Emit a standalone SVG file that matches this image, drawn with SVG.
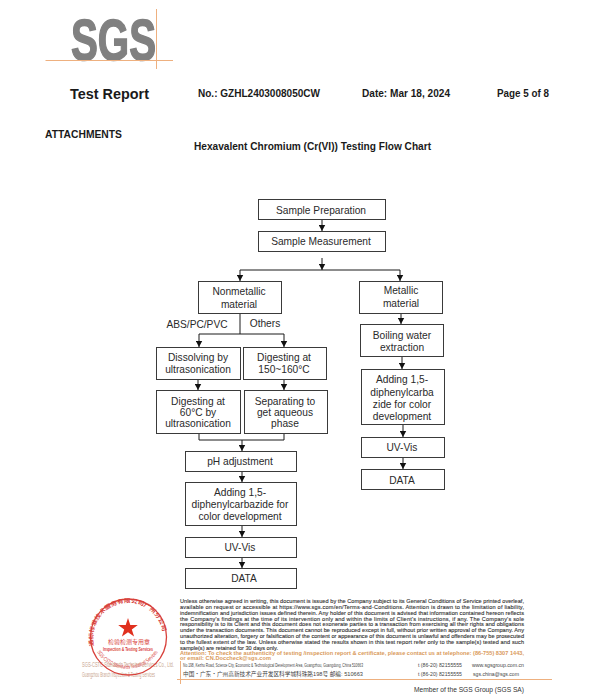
<svg xmlns="http://www.w3.org/2000/svg" width="600" height="699" viewBox="0 0 600 699">
<style>
text{font-family:"Liberation Sans",Arial,"Noto Sans CJK SC",sans-serif}
.h{font-weight:bold;fill:#1a1a1a}
.box{fill:#fff;stroke:#3a3a3a;stroke-width:1}
.n{font-size:10.200px;fill:#2a2a2a;text-anchor:middle}
.c{fill:none;stroke:#1a1a1a;stroke-width:1}
.a{marker-end:url(#ah)}
.o{stroke:#eeb07f;stroke-width:1;fill:none}
.f{font-size:5.600px;fill:#333;stroke:#333;stroke-width:.12}
.t{font-size:5.600px;fill:#d99a5b;font-weight:bold}
.g{font-size:5.600px;fill:#444}
.s{fill:#c9a58f;font-size:7px}
.r{fill:#d8403a;font-size:5.500px}
</style>
<defs>
<marker id="ah" markerUnits="userSpaceOnUse" markerWidth="7" markerHeight="7" refX="6" refY="3.500" orient="auto"><path d="M0 0.300L6 3.500L0 6.700Z" fill="#111"/></marker>
<path id="sealTop" d="M94 646A35 35 0 1 1 162 646"/>
<path id="sealBot" d="M97 652A36 36 0 0 0 160 648"/>
</defs>
<rect width="600" height="699" fill="#fff"/>
<g id="logo">
<text x="71" y="60" font-size="58" font-weight="bold" fill="#808080" stroke="#808080" stroke-width="1.500" textLength="85" lengthAdjust="spacingAndGlyphs">SGS</text>
<path class="o" d="M45.500 60.500H173M156.500 9V69"/>
</g>
<g id="header">
<text class="h" x="70" y="99" font-size="15.500" textLength="79" lengthAdjust="spacingAndGlyphs">Test Report</text>
<text class="h" x="198" y="97" font-size="10.500" textLength="122" lengthAdjust="spacingAndGlyphs">No.: GZHL2403008050CW</text>
<text class="h" x="362" y="97" font-size="10.500" textLength="88" lengthAdjust="spacingAndGlyphs">Date: Mar 18, 2024</text>
<text class="h" x="497" y="97" font-size="10.500" textLength="52" lengthAdjust="spacingAndGlyphs">Page 5 of 8</text>
<text class="h" x="45" y="138" font-size="10.500" textLength="77" lengthAdjust="spacingAndGlyphs">ATTACHMENTS</text>
<text class="h" x="194" y="150" font-size="10.500" textLength="237" lengthAdjust="spacingAndGlyphs">Hexavalent Chromium (Cr(VI)) Testing Flow Chart</text>
</g>
<g id="connectors">
<path class="c a" d="M322 219V231"/>
<path class="c a" d="M322 258V270"/>
<path class="c" d="M240 270H400"/>
<path class="c a" d="M240 270V281"/>
<path class="c a" d="M400 270V281"/>
<path class="c a" d="M401 313V324"/>
<path class="c" d="M240 313V334M199 334H284"/>
<path class="c a" d="M199 334V347"/>
<path class="c a" d="M284 334V347"/>
<path class="c a" d="M198 379V390"/>
<path class="c a" d="M284 379V390"/>
<path class="c" d="M199 433V440H284V433"/>
<path class="c a" d="M242 440V451"/>
<path class="c a" d="M242 471V482"/>
<path class="c a" d="M242 525V537"/>
<path class="c a" d="M242 557V568"/>
<path class="c a" d="M402 356V369"/>
<path class="c a" d="M403 424V437"/>
<path class="c a" d="M403 457V469"/>
</g>
<g id="n-prep"><rect class="box" x="258.500" y="199.500" width="127" height="20"/><text class="n" x="321" y="214">Sample Preparation</text></g>
<g id="n-meas"><rect class="box" x="258.500" y="231.500" width="127" height="20"/><text class="n" x="321" y="245">Sample Measurement</text></g>
<g id="n-nonmetal"><rect class="box" x="198.500" y="281.500" width="83" height="32"/><text class="n" x="239" y="295">Nonmetallic</text><text class="n" x="239" y="308">material</text></g>
<g id="n-metal"><rect class="box" x="359.500" y="281.500" width="83" height="32"/><text class="n" x="401" y="294">Metallic</text><text class="n" x="401" y="307">material</text></g>
<g id="l-abs"><text class="n" x="197" y="328">ABS/PC/PVC</text></g>
<g id="l-others"><text class="n" x="265" y="327">Others</text></g>
<g id="n-boil"><rect class="box" x="360.500" y="324.500" width="83" height="32"/><text class="n" x="402" y="339">Boiling water</text><text class="n" x="402" y="351">extraction</text></g>
<g id="n-dissolve"><rect class="box" x="156.500" y="347.500" width="84" height="32"/><text class="n" x="198" y="361">Dissolving by</text><text class="n" x="198" y="373">ultrasonication</text></g>
<g id="n-dig150"><rect class="box" x="243.500" y="347.500" width="83" height="32"/><text class="n" x="284" y="361">Digesting at</text><text class="n" x="284" y="373">150~160°C</text></g>
<g id="n-dig60"><rect class="box" x="156.500" y="390.500" width="84" height="43"/><text class="n" x="198" y="405">Digesting at</text><text class="n" x="198" y="416">60°C by</text><text class="n" x="198" y="427">ultrasonication</text></g>
<g id="n-sep"><rect class="box" x="244.500" y="390.500" width="83" height="43"/><text class="n" x="285" y="405">Separating to</text><text class="n" x="285" y="416">get aqueous</text><text class="n" x="285" y="427">phase</text></g>
<g id="n-ph"><rect class="box" x="185.500" y="451.500" width="111" height="20"/><text class="n" x="240" y="465">pH adjustment</text></g>
<g id="n-add"><rect class="box" x="185.500" y="482.500" width="111" height="43"/><text class="n" x="240" y="496">Adding 1,5-</text><text class="n" x="240" y="508">diphenylcarbazide for</text><text class="n" x="240" y="520">color development</text></g>
<g id="n-uv"><rect class="box" x="185.500" y="537.500" width="111" height="20"/><text class="n" x="240" y="551">UV-Vis</text></g>
<g id="n-data"><rect class="box" x="185.500" y="568.500" width="111" height="20"/><text class="n" x="244" y="582">DATA</text></g>
<g id="n-add2"><rect class="box" x="361.500" y="369.500" width="83" height="55"/><text class="n" x="402" y="383">Adding 1,5-</text><text class="n" x="402" y="396">diphenylcarba</text><text class="n" x="402" y="408">zide for color</text><text class="n" x="402" y="420">development</text></g>
<g id="n-uv2"><rect class="box" x="361.500" y="437.500" width="83" height="20"/><text class="n" x="402" y="451">UV-Vis</text></g>
<g id="n-data2"><rect class="box" x="361.500" y="469.500" width="83" height="20"/><text class="n" x="402" y="484">DATA</text></g>
<g id="seal">
<text class="s" x="82" y="666.500" textLength="92" lengthAdjust="spacingAndGlyphs">SGS-CSTC Standards Technical Services Co., Ltd.</text>
<text class="s" x="82" y="676.500" textLength="73" lengthAdjust="spacingAndGlyphs">Guangzhou Branch Inspection &amp; Testing Services</text>
<circle cx="128.500" cy="637" r="38" fill="none" stroke="#d8403a" stroke-width="1.300"/>
<text class="r" font-weight="bold" font-size="6.500"><textPath href="#sealTop" textLength="112" lengthAdjust="spacingAndGlyphs">通标标准技术服务有限公司广州分公司</textPath></text>
<text class="r" font-size="3.500"><textPath href="#sealBot" textLength="72" lengthAdjust="spacingAndGlyphs">SGS-CSTC Standards Technical Services</textPath></text>
<path d="M128 618L130.300 625.100L137.800 625.100L131.800 629.500L134.100 636.600L128 632.200L121.900 636.600L124.200 629.500L118.200 625.100L125.700 625.100Z" fill="#e0301e"/>
<text class="r" x="129" y="644" text-anchor="middle" textLength="42" lengthAdjust="spacingAndGlyphs" font-size="6.500">检验检测专用章</text>
<text class="r" x="128" y="651" text-anchor="middle" font-weight="bold" textLength="50" lengthAdjust="spacingAndGlyphs" fill="#b5333a">Inspection &amp; Testing Services</text>
</g>
<g id="footer">
<text class="f" x="180" y="603" textLength="344" lengthAdjust="spacing">Unless otherwise agreed in writing, this document is issued by the Company subject to its General Conditions of Service printed overleaf,</text>
<text class="f" x="180" y="608.800" textLength="344" lengthAdjust="spacing">available on request or accessible at https://www.sgs.com/en/Terms-and-Conditions. Attention is drawn to the limitation of liability,</text>
<text class="f" x="180" y="614.700" textLength="344" lengthAdjust="spacing">indemnification and jurisdiction issues defined therein. Any holder of this document is advised that information contained hereon reflects</text>
<text class="f" x="180" y="620.500" textLength="344" lengthAdjust="spacing">the Company's findings at the time of its intervention only and within the limits of Client's instructions, if any. The Company's sole</text>
<text class="f" x="180" y="626.300" textLength="344" lengthAdjust="spacing">responsibility is to its Client and this document does not exonerate parties to a transaction from exercising all their rights and obligations</text>
<text class="f" x="180" y="632.200" textLength="344" lengthAdjust="spacing">under the transaction documents. This document cannot be reproduced except in full, without prior written approval of the Company. Any</text>
<text class="f" x="180" y="638" textLength="344" lengthAdjust="spacing">unauthorized alteration, forgery or falsification of the content or appearance of this document is unlawful and offenders may be prosecuted</text>
<text class="f" x="180" y="643.800" textLength="344" lengthAdjust="spacing">to the fullest extent of the law. Unless otherwise stated the results shown in this test report refer only to the sample(s) tested and such</text>
<text class="f" x="180" y="649.500" textLength="98" lengthAdjust="spacing">sample(s) are retained for 30 days only.</text>
<text class="t" x="180" y="654.700" textLength="344" lengthAdjust="spacing">Attention: To check the authenticity of testing /inspection report &amp; certificate, please contact us at telephone: (86-755) 8307 1443,</text>
<text class="t" x="180" y="660" textLength="91" lengthAdjust="spacing">or email: CN.Doccheck@sgs.com</text>
<text class="g" x="183" y="667" textLength="180" lengthAdjust="spacingAndGlyphs">No.198, Kezhu Road, Science City, Economic &amp; Technological Development Area, Guangzhou, Guangdong, China 510663</text>
<text class="g" x="183" y="675.500" textLength="180" lengthAdjust="spacingAndGlyphs">中国・广东・广州高新技术产业开发区科学城科珠路198号 邮编: 510663</text>
<text class="g" x="418" y="667" textLength="44" lengthAdjust="spacingAndGlyphs">t (86-20) 82155555</text>
<text class="g" x="418" y="675.500" textLength="44" lengthAdjust="spacingAndGlyphs">t (86-20) 82155555</text>
<text class="g" x="472" y="667" textLength="52" lengthAdjust="spacingAndGlyphs">www.sgsgroup.com.cn</text>
<text class="g" x="473" y="675.500" textLength="46" lengthAdjust="spacingAndGlyphs">sgs.china@sgs.com</text>
<path class="o" d="M177 679.500H552M180.500 661V684"/>
<text x="414" y="691.500" font-size="7.500" fill="#333" textLength="110" lengthAdjust="spacingAndGlyphs">Member of the SGS Group (SGS SA)</text>
</g>
</svg>
